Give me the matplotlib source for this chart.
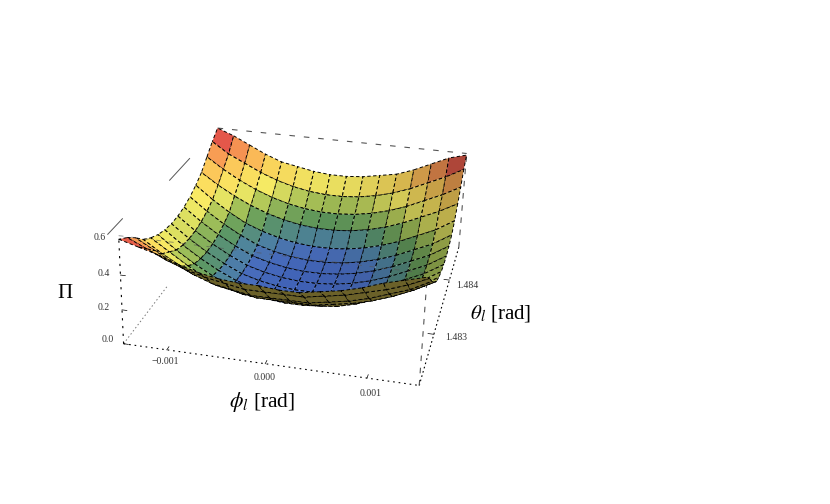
import numpy as np
import matplotlib
matplotlib.use('Agg')
import matplotlib.pyplot as plt
from matplotlib.colors import LinearSegmentedColormap
from mpl_toolkits.mplot3d import proj3d

plt.rcParams['font.family'] = ['Liberation Serif', 'DejaVu Serif']
plt.rcParams['mathtext.fontset'] = 'stix'

# surface values, rows go theta min -> theta max
phi = np.linspace(-0.00145, 0.0015, 16)
theta = np.linspace(1.4822, 1.4847, 16)
pi_val = np.array([
    [.60, .57, .54, .50, .47, .45, .44, .44, .43, .43, .45, .47, .50, .54, .57, .60],
    [.56, .51, .46, .42, .39, .37, .35, .35, .35, .35, .37, .39, .42, .45, .49, .54],
    [.51, .45, .39, .34, .30, .28, .26, .26, .26, .26, .28, .30, .33, .37, .41, .47],
    [.45, .38, .32, .27, .23, .21, .19, .19, .19, .19, .21, .23, .26, .30, .35, .41],
    [.41, .34, .27, .21, .17, .14, .13, .13, .13, .13, .14, .17, .21, .25, .30, .36],
    [.38, .30, .23, .17, .12, .09, .07, .06, .06, .07, .09, .12, .16, .21, .26, .33],
    [.36, .28, .21, .15, .10, .07, .05, .04, .04, .05, .07, .10, .14, .19, .24, .31],
    [.35, .27, .20, .14, .09, .06, .04, .03, .03, .04, .06, .09, .13, .18, .23, .30],
    [.35, .27, .20, .14, .09, .06, .04, .03, .03, .04, .06, .09, .13, .18, .23, .30],
    [.36, .28, .21, .15, .10, .07, .05, .04, .04, .05, .07, .10, .14, .19, .24, .31],
    [.38, .30, .23, .17, .12, .09, .07, .06, .06, .07, .09, .12, .16, .21, .26, .33],
    [.41, .33, .26, .20, .16, .13, .11, .10, .10, .11, .13, .16, .20, .25, .30, .37],
    [.45, .38, .32, .27, .23, .20, .18, .17, .17, .18, .20, .23, .27, .32, .37, .43],
    [.51, .44, .38, .33, .29, .26, .24, .23, .23, .24, .26, .29, .33, .38, .43, .49],
    [.57, .50, .45, .40, .36, .33, .31, .30, .30, .31, .33, .36, .40, .45, .50, .56],
    [.62, .58, .53, .48, .44, .42, .40, .39, .39, .40, .42, .44, .48, .53, .58, .61],
])
z_top = 0.62
phi_ticks = [-0.001, 0.0, 0.001]
theta_ticks = [1.483, 1.484]
z_ticks = [0.0, 0.2, 0.4, 0.6]


def px(x, y):
    return x / 830, 1 - y / 504


fig = plt.figure(figsize=(8.3, 5.04), dpi=100)
ax = fig.add_axes([-114.9 / 830, 3.1 / 504, 1, 1], projection='3d')
ax.computed_zorder = False
ax.set_xlim(phi[0], phi[-1])
ax.set_ylim(theta[0], theta[-1])
ax.set_zlim(0, z_top)
ax.view_init(elev=24.755, azim=-77.444, roll=-1.501)
ax.set_proj_type('persp', focal_length=0.443)
ax.set_box_aspect((2.510, 2.721, 1), zoom=0.817)
ax.set_axis_off()
ax.apply_aspect()

rainbow = LinearSegmentedColormap.from_list('rainbow_ish', [
    (0.0, '#3f62c0'), (0.13, '#4a6fc0'), (0.21, '#4f85a0'), (0.32, '#5f9a5e'),
    (0.43, '#a8c458'), (0.55, '#f8ee66'), (0.68, '#fcd65c'), (0.8, '#fba855'), (0.94, '#e04848'), (1.0, '#e04848')])

P, T = np.meshgrid(phi, theta)
# colour each face by the mean of its four corners
face_val = pi_val.copy()
face_val[:-1, :-1] = (pi_val[:-1, :-1] + pi_val[1:, :-1] + pi_val[:-1, 1:] + pi_val[1:, 1:]) / 4
colors = rainbow(face_val / z_top)
# right side sits in shadow
colors[..., :3] *= (1 - 0.28 * (np.arange(16) / 15) ** 2)[None, :, None]
# underside of the sheet comes out olive
sx, sy, _ = proj3d.proj_transform(P.ravel(), T.ravel(), pi_val.ravel(), ax.get_proj())
sx = sx.reshape(P.shape)
sy = sy.reshape(P.shape)
for j in range(15):
    for i in range(15):
        a = (sx[j, i + 1] - sx[j, i]) * (sy[j + 1, i] - sy[j, i]) - (sx[j + 1, i] - sx[j, i]) * (sy[j, i + 1] - sy[j, i])
        if a < 0:
            colors[j, i, :3] = (0.42, 0.38, 0.16)

ax.plot_surface(P, T, pi_val, facecolors=colors, rstride=1, cstride=1, shade=False,
                edgecolor='black', linewidth=0.7, linestyle=(0, (3.5, 2.5)), zorder=2)

p0, p1 = phi[0], phi[-1]
t0, t1 = theta[0], theta[-1]
grey = '#555555'
dash = (0, (5, 6))
# box edges
ax.plot([p0, p1], [t0, t0], [0, 0], color='black', lw=0.8, ls=(0, (1.5, 3.5)), zorder=1)
ax.plot([p1, p1], [t0, t1], [0, 0], color='black', lw=0.8, ls=(0, (1.5, 2.5)), zorder=1)
ax.plot([p0, p0], [t0, t0 + 0.41 * (t1 - t0)], [0, 0], color='#777777', lw=0.7, ls=(0, (1.5, 2.5)), zorder=1)
ax.plot([p0, p0], [t0, t0], [0, z_top], color='black', lw=0.8, ls=(0, (2, 5)), zorder=1)
ax.plot([p1, p1], [t0, t0], [0, z_top], color=grey, lw=0.8, ls=dash, zorder=1)
ax.plot([p1, p1], [t1, t1], [0, z_top], color=grey, lw=0.8, ls=dash, zorder=1)
ax.plot([p0, p1], [t1, t1], [z_top, z_top], color=grey, lw=0.8, ls=(0, (5, 8)), zorder=1)
ax.plot([p0, p1], [t0, t0], [z_top, z_top], color=grey, lw=0.7, ls=(0, (5, 8)), alpha=0.6, zorder=3)
ax.plot([p0, p0], [t0 + 0.46 * (t1 - t0), t0 + 0.67 * (t1 - t0)], [z_top, z_top], color=grey, lw=0.7, zorder=1)
ax.plot([p0 - 1.1e-4, p0 - 1.1e-4], [t0, t0 + 3e-4], [z_top, z_top], color=grey, lw=0.7, zorder=1)

# tick marks
for v in phi_ticks:
    ax.plot([v, v], [t0, t0 + 0.5e-4], [0, 0], color='black', lw=0.5, zorder=1)
for v in theta_ticks:
    ax.plot([p1, p1 - 0.6e-4], [v, v], [0, 0], color='black', lw=0.5, zorder=1)
for v in z_ticks:
    ax.plot([p0, p0 + 0.5e-4], [t0, t0], [v, v], color='black', lw=0.5, zorder=1)

# tick labels
tick_col = '#333333'
for s, x, y in zip(['\u22120.001', '0.000', '0.001'], [165, 265, 371], [361, 377, 393]):
    fig.text(*px(x, y), s, fontsize=7, color=tick_col, ha='center', va='center')
for s, x, y in zip(['1.484', '1.483'], [467, 456], [286, 338]):
    fig.text(*px(x, y), s, fontsize=7, color=tick_col, ha='center', va='center')
for s, x, y in zip(['0.6', '0.4', '0.2', '0.0'], [100, 104, 104, 108], [237, 273, 307, 340]):
    fig.text(*px(x, y), s, fontsize=7, color=tick_col, ha='center', va='center')

# axis titles
fig.text(*px(262, 402), r'$\phi_l$ [rad]', fontsize=15.5, ha='center', va='center')
fig.text(*px(501, 314), r'$\theta_l$ [rad]', fontsize=15, ha='center', va='center')
fig.text(*px(65, 293), '\u03a0', fontsize=15, ha='center', va='center')

fig.savefig('out.png', dpi=100)
